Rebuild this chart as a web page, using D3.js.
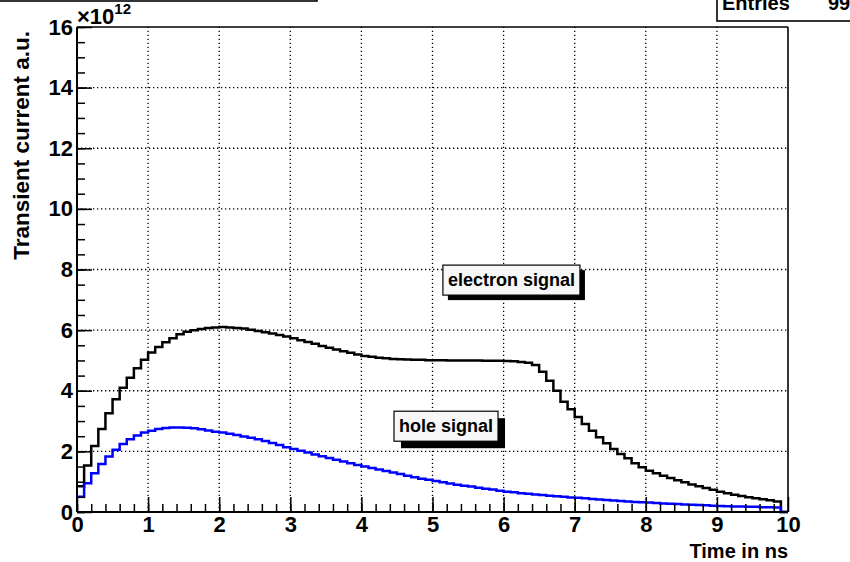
<!DOCTYPE html>
<html>
<head>
<meta charset="utf-8">
<script src="https://cdn.jsdelivr.net/npm/d3@7/dist/d3.min.js"></script>
<style>
  html, body { margin: 0; padding: 0; background: #ffffff; }
  svg { display: block; }
  text { font-family: "Liberation Sans", Arial, Helvetica, sans-serif; font-weight: bold; fill: #000; }
</style>
</head>
<body>
<script>
// Histogram binning: 100 bins of 0.1 ns from 0 to 10 ns
const binLow = d3.range(0, 100).map(i => i / 10);
const binWidth = 0.1;

// Induced current per bin, in units of 1e12 (a.u.)
const electronSignal = [
  0.85, 1.53, 2.18, 2.74, 3.26, 3.72, 4.10, 4.43, 4.74, 5.02,
  5.26, 5.44, 5.60, 5.73, 5.86, 5.95, 6.00, 6.04, 6.07, 6.09,
  6.10, 6.09, 6.07, 6.05, 6.01, 5.97, 5.93, 5.89, 5.84, 5.79,
  5.73, 5.67, 5.61, 5.55, 5.48, 5.42, 5.36, 5.30, 5.25, 5.20,
  5.15, 5.12, 5.09, 5.07, 5.05, 5.04, 5.03, 5.02, 5.02, 5.01,
  5.01, 5.01, 5.00, 5.00, 5.00, 5.00, 5.00, 4.99, 4.99, 4.99,
  4.98, 4.97, 4.95, 4.92, 4.85, 4.63, 4.33, 4.00, 3.64, 3.39,
  3.13, 2.90, 2.68, 2.47, 2.27, 2.08, 1.91, 1.77, 1.61, 1.48,
  1.36, 1.28, 1.20, 1.12, 1.05, 0.98, 0.91, 0.85, 0.79, 0.73,
  0.67, 0.62, 0.57, 0.53, 0.49, 0.45, 0.42, 0.39, 0.35, 0.00
];
const holeSignal = [
  0.50, 0.95, 1.28, 1.58, 1.83, 2.05, 2.24, 2.40, 2.52, 2.62,
  2.68, 2.74, 2.77, 2.79, 2.79, 2.78, 2.76, 2.73, 2.69, 2.65,
  2.62, 2.58, 2.54, 2.49, 2.45, 2.40, 2.34, 2.28, 2.21, 2.14,
  2.08, 2.02, 1.96, 1.90, 1.84, 1.78, 1.72, 1.67, 1.61, 1.55,
  1.50, 1.45, 1.40, 1.35, 1.30, 1.25, 1.20, 1.15, 1.10, 1.06,
  1.02, 0.98, 0.94, 0.90, 0.87, 0.84, 0.80, 0.77, 0.74, 0.70,
  0.67, 0.65, 0.62, 0.60, 0.58, 0.56, 0.54, 0.52, 0.50, 0.48,
  0.47, 0.45, 0.43, 0.41, 0.40, 0.38, 0.36, 0.35, 0.33, 0.32,
  0.31, 0.30, 0.28, 0.27, 0.26, 0.25, 0.24, 0.23, 0.22, 0.21,
  0.20, 0.19, 0.18, 0.18, 0.17, 0.17, 0.16, 0.16, 0.15, 0.00
];

// Axis ticks
const xMajorTicks = d3.range(0, 11, 1);
const xMinorTicks = d3.range(0, 50).map(i => i * 0.2);
const yMajorTicks = [0, 2, 4, 6, 8, 10, 12, 14, 16];
const yMinorTicks = d3.range(0, 33).map(i => i * 0.5);
const xGridTicks = d3.range(1, 10, 1);
const yGridTicks = [2, 4, 6, 8, 10, 12, 14];

// Text
const xTitle = "Time in ns";
const yTitle = "Transient current a.u.";
const labels = [
  { text: "electron signal", x: 6.11, y: 7.66, shadow: 5 },
  { text: "hole signal", x: 5.19, y: 2.84, shadow: 7 }
];
const statsText = { name: "Entries", value: "99" };

const W = 850, H = 562;
const margin = { left: 77, right: 62, top: 27, bottom: 50 };

const x = d3.scaleLinear().domain([0, 10]).range([margin.left, W - margin.right]);
const y = d3.scaleLinear().domain([0, 16]).range([H - margin.bottom, margin.top]);

const svg = d3.select("body").append("svg")
  .attr("width", W).attr("height", H);

// Title box edge along the top-left
svg.append("rect")
  .attr("x", -5).attr("y", -40).attr("width", 322).attr("height", 41)
  .attr("fill", "#fff").attr("stroke", "#000").attr("stroke-width", 1.6);

// Grid (dotted)
const grid = svg.append("g").attr("stroke", "#000").attr("stroke-width", 1.3)
  .attr("stroke-dasharray", "1.3,2.7");
grid.selectAll("line.gx").data(xGridTicks).join("line")
  .attr("x1", d => x(d)).attr("x2", d => x(d))
  .attr("y1", y(0)).attr("y2", y(16));
grid.selectAll("line.gy").data(yGridTicks).join("line")
  .attr("x1", x(0)).attr("x2", x(10))
  .attr("y1", d => y(d)).attr("y2", d => y(d));

// Histogram outlines
function histPoints(values) {
  const pts = values.map((v, i) => [binLow[i], v]);
  pts.push([binLow[values.length - 1] + binWidth, values[values.length - 1]]);
  return pts;
}
const stepLine = d3.line()
  .x(d => x(d[0])).y(d => y(d[1]))
  .curve(d3.curveStepAfter);

svg.append("path")
  .attr("d", stepLine(histPoints(electronSignal)))
  .attr("fill", "none").attr("stroke", "#000").attr("stroke-width", 2.5);
svg.append("path")
  .attr("d", stepLine(histPoints(holeSignal)))
  .attr("fill", "none").attr("stroke", "#0000ff").attr("stroke-width", 2.5);

// Axes with inward ticks
const axisStyle = g => {
  g.select(".domain").remove();
  g.selectAll(".tick line").attr("stroke", "#000").attr("stroke-width", 1.5);
};
const labelStyle = g => g.selectAll(".tick text")
  .attr("font-size", 22).attr("font-family", "Liberation Sans").attr("font-weight", "bold");

svg.append("g").attr("transform", `translate(0,${y(0)})`)
  .call(d3.axisBottom(x).tickValues(xMinorTicks).tickSize(-8).tickFormat(""))
  .call(axisStyle);
svg.append("g").attr("transform", `translate(0,${y(0)})`)
  .call(d3.axisBottom(x).tickValues(xMajorTicks).tickSize(-15).tickPadding(4).tickFormat(d3.format("d")))
  .call(axisStyle).call(labelStyle);
svg.append("g").attr("transform", `translate(${x(0)},0)`)
  .call(d3.axisLeft(y).tickValues(yMinorTicks).tickSize(-8).tickFormat(""))
  .call(axisStyle);
svg.append("g").attr("transform", `translate(${x(0)},0)`)
  .call(d3.axisLeft(y).tickValues(yMajorTicks).tickSize(-15).tickPadding(4).tickFormat(d3.format("d")))
  .call(axisStyle).call(labelStyle);

// Frame
svg.append("line").attr("x1", x(0)).attr("x2", x(10)).attr("y1", y(0)).attr("y2", y(0))
  .attr("stroke", "#000").attr("stroke-width", 2);
svg.append("line").attr("x1", x(0)).attr("x2", x(0)).attr("y1", y(0)).attr("y2", y(16))
  .attr("stroke", "#000").attr("stroke-width", 2);
svg.append("line").attr("x1", x(0)).attr("x2", x(10)).attr("y1", y(16)).attr("y2", y(16))
  .attr("stroke", "#000").attr("stroke-width", 1.6);
svg.append("line").attr("x1", x(10)).attr("x2", x(10)).attr("y1", y(16)).attr("y2", y(0))
  .attr("stroke", "#000").attr("stroke-width", 1.6);

// Exponent on the y axis
const expo = svg.append("text").attr("x", x(0)).attr("y", 24).attr("font-size", 22);
expo.append("tspan").text("\u00d710");
expo.append("tspan").attr("dy", -10).attr("font-size", 15).text("12");

// Axis titles
svg.append("text").attr("x", x(10)).attr("y", 558).attr("text-anchor", "end")
  .attr("font-size", 20).text(xTitle);
svg.append("text").attr("transform", `translate(29,${y(16) + 4}) rotate(-90)`)
  .attr("text-anchor", "end").attr("font-size", 22.5).text(yTitle);

// Signal labels with shadowed boxes
labels.forEach(l => {
  const t = svg.append("text").attr("x", x(l.x)).attr("y", y(l.y))
    .attr("text-anchor", "middle").attr("dy", "0.35em").attr("font-size", 18).text(l.text);
  const bb = t.node().getBBox();
  const bx = bb.x - 5, by = bb.y - 5, bw = bb.width + 10, bh = bb.height + 10;
  svg.insert("rect", () => t.node()).attr("x", bx + l.shadow).attr("y", by + l.shadow)
    .attr("width", bw).attr("height", bh).attr("fill", "#000");
  svg.insert("rect", () => t.node()).attr("x", bx).attr("y", by).attr("width", bw).attr("height", bh)
    .attr("fill", "#f7f7f7").attr("stroke", "#000").attr("stroke-width", 1.2);
});

// Statistics box in the top-right corner
svg.append("rect").attr("x", 717).attr("y", -40).attr("width", 160).attr("height", 61)
  .attr("fill", "#fff").attr("stroke", "#000").attr("stroke-width", 1.6);
svg.append("text").attr("x", 722).attr("y", 10).attr("font-size", 20).text(statsText.name);
svg.append("text").attr("x", 828).attr("y", 10).attr("font-size", 20).text(statsText.value);
</script>
</body>
</html>
